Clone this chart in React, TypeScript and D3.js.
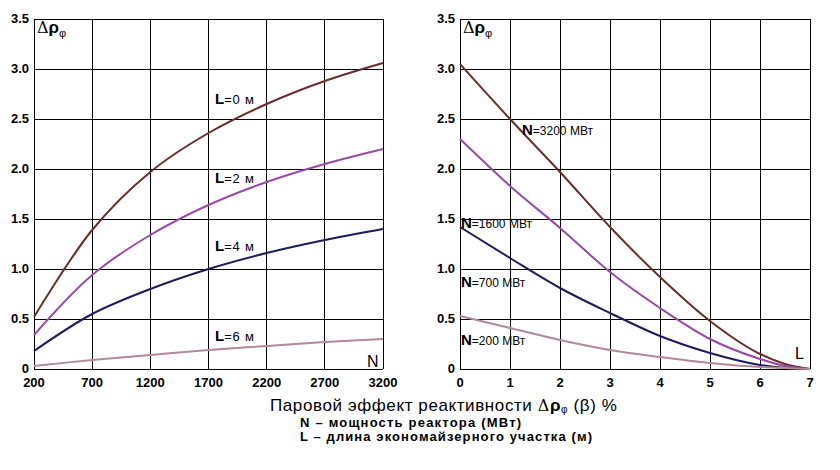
import React from "react";
import * as d3 from "d3";

// Left panel: x = N (МВт), series by L
const nValues = [200, 700, 1200, 1700, 2200, 2700, 3200];
const seriesL0 = [0.52, 1.39, 1.97, 2.36, 2.65, 2.88, 3.06];
const seriesL2 = [0.34, 0.94, 1.34, 1.64, 1.87, 2.05, 2.2];
const seriesL4 = [0.18, 0.55, 0.8, 1.0, 1.16, 1.29, 1.4];
const seriesL6 = [0.03, 0.09, 0.14, 0.19, 0.23, 0.27, 0.3];
const leftLabels = ["0", "2", "4", "6"];

// Right panel: x = L (м), series by N
const lValues = [0, 1, 2, 3, 4, 5, 6, 6.5, 7];
const seriesN3200 = [3.05, 2.5, 1.97, 1.42, 0.92, 0.48, 0.15, 0.05, 0.0];
const seriesN1600 = [2.3, 1.83, 1.41, 0.97, 0.61, 0.3, 0.1, 0.03, 0.0];
const seriesN700 = [1.42, 1.11, 0.81, 0.56, 0.33, 0.16, 0.04, 0.01, 0.0];
const seriesN200 = [0.53, 0.41, 0.29, 0.19, 0.12, 0.06, 0.02, 0.01, 0.0];
const rightLabels = ["3200", "1600", "700", "200"];

const yTicks = [0, 0.5, 1.0, 1.5, 2.0, 2.5, 3.0, 3.5];
const leftXTicks = [200, 700, 1200, 1700, 2200, 2700, 3200];
const rightXTicks = [0, 1, 2, 3, 4, 5, 6, 7];

const colors = ["#6e2b2b", "#9a48aa", "#1c1c5e", "#b48a92"];

const FONT = "Arial, 'Liberation Sans', sans-serif";

export default function App() {
  const top = 19;
  const bottom = 369;
  const y = d3.scaleLinear().domain([0, 3.5]).range([bottom, top]);
  const xL = d3.scaleLinear().domain([200, 3200]).range([34, 383]);
  const xR = d3.scaleLinear().domain([0, 7]).range([460, 810]);

  const lineL = (vals: number[]) =>
    d3
      .line<number>()
      .x((_, i) => xL(nValues[i]))
      .y((d) => y(d))
      .curve(d3.curveCatmullRom.alpha(0.5))(vals) as string;
  const lineR = (vals: number[]) =>
    d3
      .line<number>()
      .x((_, i) => xR(lValues[i]))
      .y((d) => y(d))
      .curve(d3.curveMonotoneX)(vals) as string;

  const leftSeries = [seriesL0, seriesL2, seriesL4, seriesL6];
  const rightSeries = [seriesN3200, seriesN1600, seriesN700, seriesN200];
  const leftLabelY = [104, 183, 251, 341];
  const rightLabelPos = [
    [522, 135],
    [461, 228],
    [461, 287],
    [461, 345],
  ];

  const panel = (
    x: d3.ScaleLinear<number, number>,
    ticks: number[],
    key: string
  ) => {
    const [x0, x1] = x.range();
    return (
      <g key={key}>
        {ticks.map((t) => (
          <line
            key={"v" + t}
            x1={x(t)}
            x2={x(t)}
            y1={top}
            y2={bottom}
            stroke="#000"
            strokeWidth={1}
            shapeRendering="crispEdges"
          />
        ))}
        {yTicks.map((t) => (
          <line
            key={"h" + t}
            x1={x0}
            x2={x1}
            y1={y(t)}
            y2={y(t)}
            stroke="#000"
            strokeWidth={1}
            shapeRendering="crispEdges"
          />
        ))}
        {yTicks.map((t) => (
          <text
            key={"yl" + t}
            x={x0 - 5}
            y={y(t) + 4}
            textAnchor="end"
            fontSize={13}
            fontWeight="bold"
            fontFamily={FONT}
          >
            {t === 0 ? "0" : t.toFixed(1)}
          </text>
        ))}
        {ticks.map((t) => (
          <text
            key={"xl" + t}
            x={x(t)}
            y={387}
            textAnchor="middle"
            fontSize={13}
            fontWeight="bold"
            fontFamily={FONT}
          >
            {t}
          </text>
        ))}
        <text x={x0 + 3} y={33} fontFamily={FONT} fontWeight="bold" fontSize={17}>
          <tspan fontFamily="'DejaVu Serif', serif" fontWeight="normal" fontSize={16}>Δ</tspan>
          <tspan>ρ</tspan>
          <tspan dy={4} fontSize={11} fontWeight="normal">φ</tspan>
        </text>
      </g>
    );
  };

  return (
    <svg width={840} height={470} style={{ display: "block", position: "absolute", left: 0, top: 0 }}>
      <rect x={0} y={0} width={840} height={470} fill="#fff" />
      {panel(xL, leftXTicks, "left")}
      {panel(xR, rightXTicks, "right")}

      {leftSeries.map((s, i) => (
        <path key={"ls" + i} d={lineL(s)} fill="none" stroke={colors[i]} strokeWidth={2} />
      ))}
      {rightSeries.map((s, i) => (
        <path key={"rs" + i} d={lineR(s)} fill="none" stroke={colors[i]} strokeWidth={2} />
      ))}

      {leftLabels.map((l, i) => (
        <text key={"ll" + i} x={215} y={leftLabelY[i]} fontFamily={FONT}>
          <tspan fontSize={15} fontWeight="bold">L</tspan>
          <tspan fontSize={13} letterSpacing={0.8}>{"=" + l + " м"}</tspan>
        </text>
      ))}
      {rightLabels.map((l, i) => (
        <text key={"rl" + i} x={rightLabelPos[i][0]} y={rightLabelPos[i][1]} fontFamily={FONT}>
          <tspan fontSize={15} fontWeight="bold">N</tspan>
          <tspan fontSize={12}>{"=" + l + " МВт"}</tspan>
        </text>
      ))}

      <text x={367} y={367} fontFamily={FONT} fontSize={16}>N</text>
      <text x={795} y={359} fontFamily={FONT} fontSize={16}>L</text>

      <text x={270} y={411} fontFamily={FONT} fontSize={17} letterSpacing={0.6}>
        {"Паровой эффект реактивности "}
        <tspan fontFamily="'DejaVu Serif', serif" fontSize={16}>Δ</tspan>
        <tspan fontWeight="bold">ρ</tspan>
        <tspan dy={2} fontSize={10}>φ</tspan>
        <tspan dy={-2}>{" (β) %"}</tspan>
      </text>
      <text x={300} y={427} fontFamily={FONT} fontSize={13} fontWeight="bold" letterSpacing={1.2}>
        N – мощность реактора (МВт)
      </text>
      <text x={300} y={441} fontFamily={FONT} fontSize={13} fontWeight="bold" letterSpacing={1.1}>
        L – длина экономайзерного участка (м)
      </text>
    </svg>
  );
}
